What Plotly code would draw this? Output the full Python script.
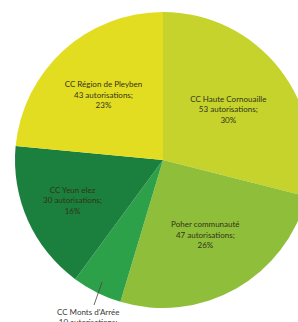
import math
import plotly.graph_objects as go

# Data
labels = ["CC Haute Cornouaille", "Poher communauté", "CC Monts d'Arrée",
          "CC Yeun elez", "CC Région de Pleyben"]
values = [53, 47, 10, 30, 43]
pct_labels = ["30%", "26%", "5%", "16%", "23%"]
colors = ["#c6d32c", "#8fbe3a", "#2da14a", "#1b7f3e", "#e3dd22"]

W, H = 320, 322
cx, cy, R = 163, 160, 148

texts = [f"{l}<br>{v} autorisations;<br>{p}" for l, v, p in zip(labels, values, pct_labels)]
textpos = ["inside", "inside", "none", "inside", "inside"]

fig = go.Figure(go.Pie(
    labels=labels,
    values=values,
    text=texts,
    textinfo="text",
    textposition=textpos,
    insidetextorientation="horizontal",
    insidetextfont=dict(family="Lato", size=8, color="#333318"),
    marker=dict(colors=colors, line=dict(width=0)),
    sort=False,
    direction="clockwise",
    rotation=0,
    hoverinfo="label+value",
    showlegend=False,
    domain=dict(x=[(cx - R) / W, (cx + R) / W],
                y=[(H - (cy + R)) / H, (H - (cy - R)) / H]),
))

# leader line for the small slice, placed from the data
total = sum(values)
i = 2
frac = (sum(values[:i]) + values[i] / 2) / total
th = 2 * math.pi * frac
hx = cx + 0.92 * R * math.sin(th)
hy = cy - 0.92 * R * math.cos(th)
fig.add_annotation(
    x=hx / W, y=(H - hy) / H, xref="paper", yref="paper",
    text=texts[i], showarrow=True, arrowhead=0, arrowwidth=0.8,
    arrowcolor="#444444", ax=-14, ay=44,
    font=dict(family="Lato", size=8, color="#3a3a3a"), align="center",
)

fig.update_layout(
    width=W, height=H,
    margin=dict(l=0, r=0, t=0, b=0),
    paper_bgcolor="white", plot_bgcolor="white",
)

fig.write_html("out.html", config={"displayModeBar": False},
               post_script="document.body.style.margin='0';document.body.style.overflow='hidden';")
